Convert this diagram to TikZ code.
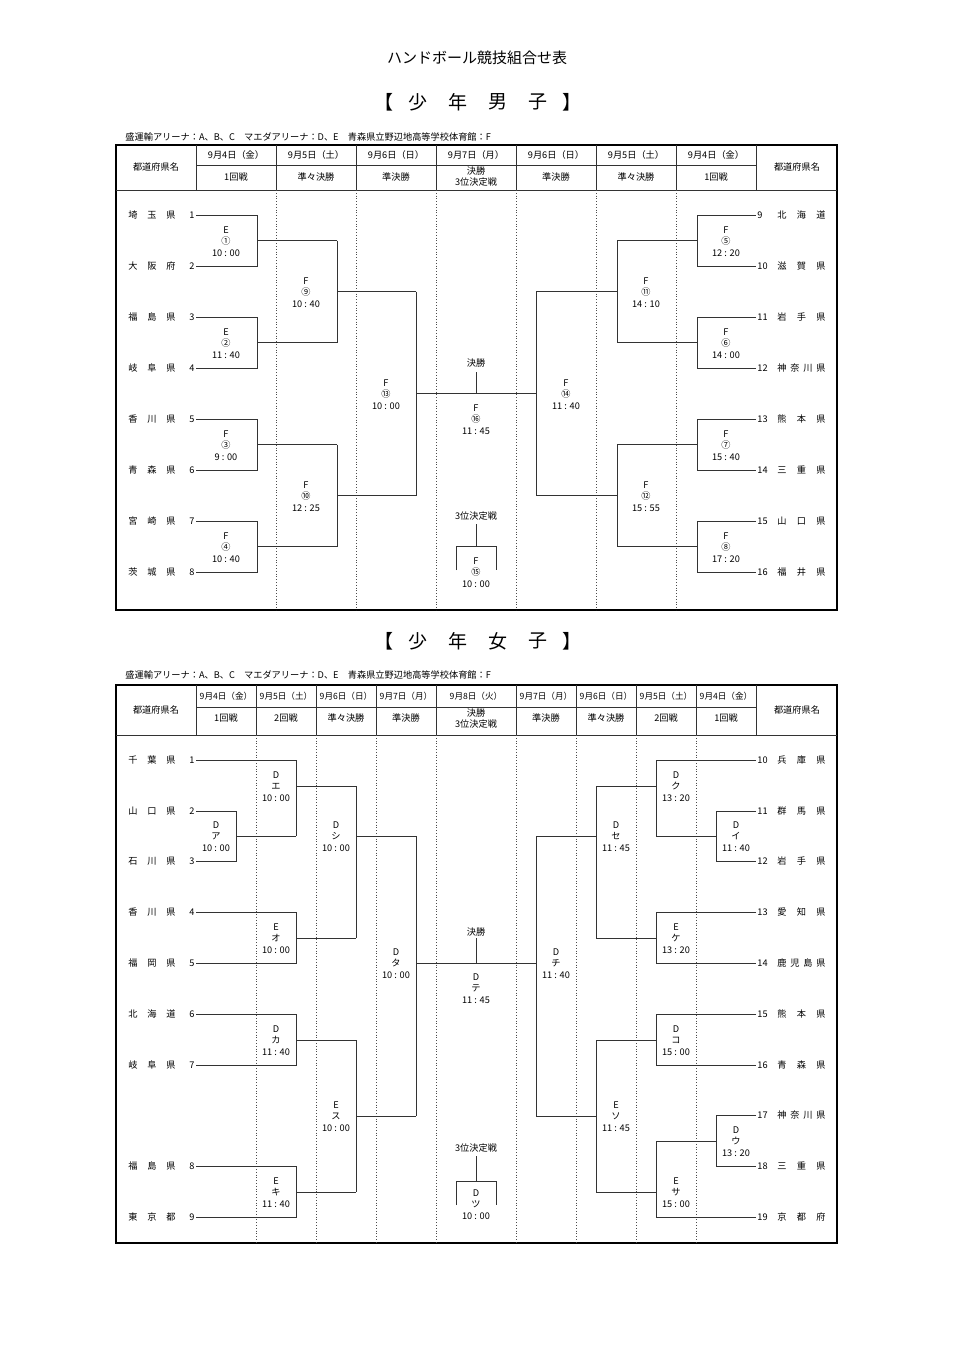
\documentclass[tikz,border=0pt]{standalone}
\usepackage{fontspec}
\setmainfont{Noto Sans CJK JP}
\begin{document}
\begin{tikzpicture}[x=0.5pt,y=-0.5pt,
  ln/.style={line width=0.5pt,draw=black!80},
  bx/.style={line width=1pt},
  dt/.style={densely dotted,line width=0.4pt,draw=black!70},
  lb/.style={inner sep=0pt,font=\fontsize{4.6}{5}\selectfont},
  nm/.style={inner sep=0pt,font=\fontsize{4.6}{5}\selectfont},
  hd/.style={inner sep=0pt,font=\fontsize{4.6}{5.5}\selectfont,align=center}]
\useasboundingbox[fill=white] (0,0) rectangle (954,1350);
\newcommand\lab[5]{\node[lb] at (#1,#2-11) {#3};\node[lb] at (#1,#2) {#4};\node[lb] at (#1,#2+12) {#5};}
\newcommand\pname[5]{\foreach \c [count=\i] in {#5}{\node[nm] at ({#1+(#2-#1)*(\i-1)/(#4-1)},#3) {\c};}}
\newcommand\numL[2]{\node[nm,anchor=east] at (195,#1) {#2};}
\newcommand\numR[2]{\node[nm,anchor=west] at (757,#1) {#2};}
% titles
\node[inner sep=0pt,font=\fontsize{7.5}{8}\selectfont] (t1) at (477,58) {ハンドボール競技組合せ表};
\foreach \c/\x in {【/384,少/418,年/458,男/498,子/538,】/572}{\node[inner sep=0pt,font=\fontsize{9.5}{10}\selectfont] at (\x,102) {\c};}
\foreach \c/\x in {【/384,少/418,年/458,女/498,子/538,】/572}{\node[inner sep=0pt,font=\fontsize{9.5}{10}\selectfont] at (\x,641) {\c};}
\node[lb,anchor=west] (i1) at (125,137) {盛運輸アリーナ：A、B、C　マエダアリーナ：D、E　青森県立野辺地高等学校体育館：F};
\node[lb,anchor=west] (i2) at (125,675) {盛運輸アリーナ：A、B、C　マエダアリーナ：D、E　青森県立野辺地高等学校体育館：F};
%================ MALE
\draw[bx] (116,145) rectangle (837,610);
\draw[ln] (196,165)--(756,165) (116,190)--(837,190);
\foreach \x in {196,276,356,436,516,596,676,756} \draw[ln] (\x,145)--(\x,190);
\foreach \x in {276,356,436,516,596,676} \draw[dt] (\x,190)--(\x,610);
\foreach \d [count=\i] in {9月4日（金）,9月5日（土）,9月6日（日）,9月7日（月）,9月6日（日）,9月5日（土）,9月4日（金）}
  \node[hd] at ({236+80*(\i-1)},155) {\d};
\foreach \d [count=\i] in {1回戦,準々決勝,準決勝,,準決勝,準々決勝,1回戦}
  \node[hd] at ({236+80*(\i-1)},177) {\d};
\node[hd] at (476,177) {決勝\\3位決定戦};
\node[hd] at (156,167) {都道府県名};
\node[hd] at (797,167) {都道府県名};
% names
\pname{133}{171}{215}{3}{埼,玉,県}\numL{215}{1}
\pname{133}{171}{266}{3}{大,阪,府}\numL{266}{2}
\pname{133}{171}{317}{3}{福,島,県}\numL{317}{3}
\pname{133}{171}{368}{3}{岐,阜,県}\numL{368}{4}
\pname{133}{171}{419}{3}{香,川,県}\numL{419}{5}
\pname{133}{171}{470}{3}{青,森,県}\numL{470}{6}
\pname{133}{171}{521}{3}{宮,崎,県}\numL{521}{7}
\pname{133}{171}{572}{3}{茨,城,県}\numL{572}{8}
\pname{782}{821}{215}{3}{北,海,道}\numR{215}{9}
\pname{782}{821}{266}{3}{滋,賀,県}\numR{266}{10}
\pname{782}{821}{317}{3}{岩,手,県}\numR{317}{11}
\pname{782}{821}{368}{4}{神,奈,川,県}\numR{368}{12}
\pname{782}{821}{419}{3}{熊,本,県}\numR{419}{13}
\pname{782}{821}{470}{3}{三,重,県}\numR{470}{14}
\pname{782}{821}{521}{3}{山,口,県}\numR{521}{15}
\pname{782}{821}{572}{3}{福,井,県}\numR{572}{16}
% brackets
\foreach \a/\b in {215/266,317/368,419/470,521/572}{
  \draw[ln] (196,\a)--(257,\a)--(257,\b)--(196,\b);
  \draw[ln] (257,{(\a+\b)/2})--(337,{(\a+\b)/2});
  \draw[ln] (756,\a)--(697,\a)--(697,\b)--(756,\b);
  \draw[ln] (697,{(\a+\b)/2})--(617,{(\a+\b)/2});}
\draw[ln] (337,240.5)--(337,342.5) (337,291.5)--(416,291.5);
\draw[ln] (337,444.5)--(337,546.5) (337,495.5)--(416,495.5);
\draw[ln] (617,240.5)--(617,342.5) (617,291.5)--(536,291.5);
\draw[ln] (617,444.5)--(617,546.5) (617,495.5)--(536,495.5);
\draw[ln] (416,291.5)--(416,495.5) (536,291.5)--(536,495.5);
\draw[ln] (416,393.5)--(536,393.5) (476,372)--(476,393.5);
\draw[ln] (476,524)--(476,546) (456,570)--(456,546)--(496,546)--(496,570);
\node[lb] at (476,363) {決勝};
\node[lb] at (476,516) {3位決定戦};
\lab{226}{241}{E}{①}{10 : 00}
\lab{226}{343}{E}{②}{11 : 40}
\lab{226}{445}{F}{③}{9 : 00}
\lab{226}{547}{F}{④}{10 : 40}
\lab{306}{292}{F}{⑨}{10 : 40}
\lab{306}{496}{F}{⑩}{12 : 25}
\lab{386}{394}{F}{⑬}{10 : 00}
\lab{726}{241}{F}{⑤}{12 : 20}
\lab{726}{343}{F}{⑥}{14 : 00}
\lab{726}{445}{F}{⑦}{15 : 40}
\lab{726}{547}{F}{⑧}{17 : 20}
\lab{646}{292}{F}{⑪}{14 : 10}
\lab{646}{496}{F}{⑫}{15 : 55}
\lab{566}{394}{F}{⑭}{11 : 40}
\lab{476}{419}{F}{⑯}{11 : 45}
\lab{476}{572}{F}{⑮}{10 : 00}
%================ FEMALE
\draw[bx] (116,685) rectangle (837,1243);
\draw[ln] (196,707)--(756,707) (116,735)--(837,735);
\foreach \x in {196,256,316,376,436,516,576,636,696,756} \draw[ln] (\x,685)--(\x,735);
\foreach \x in {256,316,376,436,516,576,636,696} \draw[dt] (\x,735)--(\x,1243);
\foreach \d/\x in {9月4日（金）/226,9月5日（土）/286,9月6日（日）/346,9月7日（月）/406,9月8日（火）/476,9月7日（月）/546,9月6日（日）/606,9月5日（土）/666,9月4日（金）/726}
  \node[hd,font=\fontsize{4.3}{5}\selectfont] at (\x,696) {\d};
\foreach \d/\x in {1回戦/226,2回戦/286,準々決勝/346,準決勝/406,準決勝/546,準々決勝/606,2回戦/666,1回戦/726}
  \node[hd] at (\x,718) {\d};
\node[hd] at (476,719) {決勝\\3位決定戦};
\node[hd] at (156,710) {都道府県名};
\node[hd] at (797,710) {都道府県名};
\pname{133}{171}{760}{3}{千,葉,県}\numL{760}{1}
\pname{133}{171}{811}{3}{山,口,県}\numL{811}{2}
\pname{133}{171}{861}{3}{石,川,県}\numL{861}{3}
\pname{133}{171}{912}{3}{香,川,県}\numL{912}{4}
\pname{133}{171}{963}{3}{福,岡,県}\numL{963}{5}
\pname{133}{171}{1014}{3}{北,海,道}\numL{1014}{6}
\pname{133}{171}{1065}{3}{岐,阜,県}\numL{1065}{7}
\pname{133}{171}{1166}{3}{福,島,県}\numL{1166}{8}
\pname{133}{171}{1217}{3}{東,京,都}\numL{1217}{9}
\pname{782}{821}{760}{3}{兵,庫,県}\numR{760}{10}
\pname{782}{821}{811}{3}{群,馬,県}\numR{811}{11}
\pname{782}{821}{861}{3}{岩,手,県}\numR{861}{12}
\pname{782}{821}{912}{3}{愛,知,県}\numR{912}{13}
\pname{782}{821}{963}{4}{鹿,児,島,県}\numR{963}{14}
\pname{782}{821}{1014}{3}{熊,本,県}\numR{1014}{15}
\pname{782}{821}{1065}{3}{青,森,県}\numR{1065}{16}
\pname{782}{821}{1115}{4}{神,奈,川,県}\numR{1115}{17}
\pname{782}{821}{1166}{3}{三,重,県}\numR{1166}{18}
\pname{782}{821}{1217}{3}{京,都,府}\numR{1217}{19}
% left brackets
\draw[ln] (196,760)--(296,760)--(296,836) (196,811)--(236,811)--(236,861)--(196,861) (236,836)--(296,836) (296,786)--(356,786);
\draw[ln] (196,912)--(296,912)--(296,963)--(196,963) (296,938)--(356,938);
\draw[ln] (356,786)--(356,938) (356,836)--(416,836);
\draw[ln] (196,1014)--(296,1014)--(296,1065)--(196,1065) (296,1040)--(356,1040);
\draw[ln] (196,1166)--(296,1166)--(296,1217)--(196,1217) (296,1192)--(356,1192);
\draw[ln] (356,1040)--(356,1192) (356,1116)--(416,1116);
\draw[ln] (416,836)--(416,1116) (416,963)--(536,963) (476,938)--(476,963);
% right brackets
\draw[ln] (756,760)--(656,760)--(656,836) (756,811)--(716,811)--(716,861)--(756,861) (716,836)--(656,836) (656,786)--(596,786);
\draw[ln] (756,912)--(656,912)--(656,963)--(756,963) (656,938)--(596,938);
\draw[ln] (596,786)--(596,938) (596,836)--(536,836);
\draw[ln] (756,1014)--(656,1014)--(656,1065)--(756,1065) (656,1040)--(596,1040);
\draw[ln] (756,1115)--(716,1115)--(716,1166)--(756,1166) (716,1141)--(656,1141) (756,1217)--(656,1217)--(656,1141) (656,1192)--(596,1192);
\draw[ln] (596,1040)--(596,1192) (596,1116)--(536,1116);
\draw[ln] (536,836)--(536,1116);
\draw[ln] (476,1156)--(476,1181) (456,1205)--(456,1181)--(496,1181)--(496,1205);
\node[lb] at (476,932) {決勝};
\node[lb] at (476,1148) {3位決定戦};
\lab{216}{836}{D}{ア}{10 : 00}
\lab{276}{786}{D}{エ}{10 : 00}
\lab{276}{938}{E}{オ}{10 : 00}
\lab{336}{836}{D}{シ}{10 : 00}
\lab{276}{1040}{D}{カ}{11 : 40}
\lab{276}{1192}{E}{キ}{11 : 40}
\lab{336}{1116}{E}{ス}{10 : 00}
\lab{396}{963}{D}{タ}{10 : 00}
\lab{476}{988}{D}{テ}{11 : 45}
\lab{476}{1204}{D}{ツ}{10 : 00}
\lab{676}{786}{D}{ク}{13 : 20}
\lab{736}{836}{D}{イ}{11 : 40}
\lab{676}{938}{E}{ケ}{13 : 20}
\lab{616}{836}{D}{セ}{11 : 45}
\lab{676}{1040}{D}{コ}{15 : 00}
\lab{736}{1141}{D}{ウ}{13 : 20}
\lab{676}{1192}{E}{サ}{15 : 00}
\lab{616}{1116}{E}{ソ}{11 : 45}
\lab{556}{963}{D}{チ}{11 : 40}
\end{tikzpicture}
\end{document}
